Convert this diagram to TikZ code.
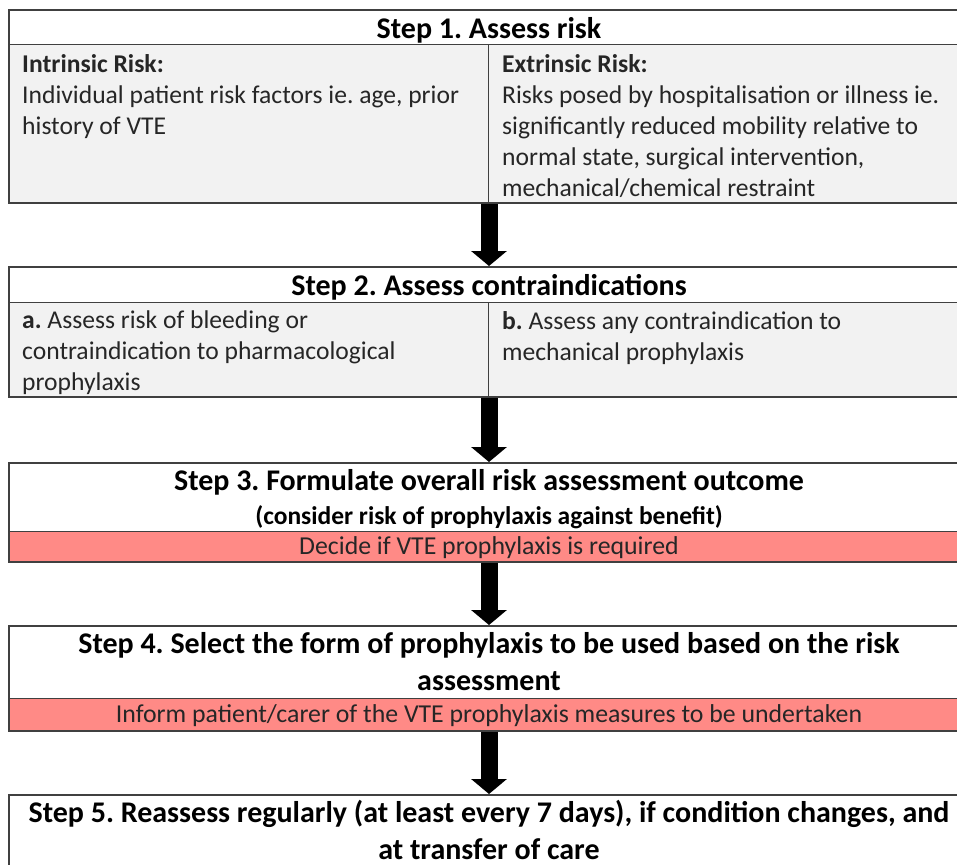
\documentclass[tikz,border=0pt]{standalone}
\usepackage{fontspec}
\setmainfont{Carlito}
\usetikzlibrary{arrows.meta}
\definecolor{frame}{HTML}{404040}
\definecolor{cellgray}{HTML}{F2F2F2}
\definecolor{pinkband}{HTML}{FF8A86}
\tikzset{
  boxframe/.style={draw=frame, line width=2pt, anchor=north west, inner sep=0pt},
  divider/.style={draw=frame, line width=1pt},
  hdr/.style={font=\fontsize{30}{36}\selectfont\bfseries, inner sep=0pt, anchor=center},
  bighdr/.style={font=\fontsize{30}{37}\selectfont\bfseries, inner sep=0pt, anchor=center, align=center},
  subhdr/.style={font=\fontsize{25.5}{30}\selectfont\bfseries, inner sep=0pt, anchor=center},
  celltext/.style={font=\fontsize{25.6}{31}\selectfont, inner sep=0pt, anchor=north west, align=left, text=black!85},
  bandtext/.style={font=\fontsize{25.8}{30}\selectfont, inner sep=0pt, anchor=center, text=black!85},
  bigarrow/.style={line width=17pt, -{Triangle[width=35pt,length=15pt]}, black}
}
\begin{document}
\frenchspacing
\begin{tikzpicture}[x=1pt,y=-1pt]
\useasboundingbox (0,0) rectangle (957,864);
\clip (0,0) rectangle (957,864);
% ---- Step 1
\fill[cellgray] (8,45) rectangle (970,202);
\draw[divider] (8,45) -- (970,45);
\draw[divider] (488,45) -- (488,202);
\node[boxframe, minimum width=962pt, minimum height=193pt] (s1) at (8,9) {};
\node[hdr] (s1t) at (489,30) {Step 1. Assess risk};
\node[celltext] (s1a) at (22,54) {\textbf{Intrinsic Risk:}\\Individual patient risk factors ie. age, prior\\history of VTE};
\node[celltext] (s1b) at (502,54) {\textbf{Extrinsic Risk:}\\Risks posed by hospitalisation or illness ie.\\significantly reduced mobility relative to\\normal state, surgical intervention,\\mechanical/chemical restraint};
% ---- Step 2
\fill[cellgray] (8,302) rectangle (970,396);
\draw[divider] (8,302) -- (970,302);
\draw[divider] (488,302) -- (488,396);
\node[boxframe, minimum width=962pt, minimum height=130pt] (s2) at (8,266) {};
\node[hdr] (s2t) at (489,287) {Step 2. Assess contraindications};
\node[celltext] (s2a) at (22,311) {\textbf{a.} Assess risk of bleeding or\\contraindication to pharmacological\\prophylaxis};
\node[celltext] (s2b) at (502,311) {\textbf{b.} Assess any contraindication to\\mechanical prophylaxis};
% ---- Step 3
\fill[pinkband] (8,531) rectangle (970,561);
\draw[divider] (8,531) -- (970,531);
\node[boxframe, minimum width=962pt, minimum height=99pt] (s3) at (8,462) {};
\node[bighdr] (s3t) at (489,482) {Step 3. Formulate overall risk assessment outcome};
\node[subhdr] (s3s) at (489,517) {(consider risk of prophylaxis against benefit)};
\node[bandtext] (s3b) at (489,548) {Decide if VTE prophylaxis is required};
% ---- Step 4
\fill[pinkband] (8,698) rectangle (970,730);
\draw[divider] (8,698) -- (970,698);
\node[boxframe, minimum width=962pt, minimum height=105pt] (s4) at (8,625) {};
\node[bighdr] (s4t) at (489,662) {Step 4. Select the form of prophylaxis to be used based on the risk\\assessment};
\node[bandtext] (s4b) at (489,716) {Inform patient/carer of the VTE prophylaxis measures to be undertaken};
% ---- Step 5
\node[boxframe, minimum width=962pt, minimum height=100pt] (s5) at (8,794) {};
\node[bighdr] (s5t) at (489,830) {Step 5. Reassess regularly (at least every 7 days), if condition changes, and\\at transfer of care};
% ---- arrows
\draw[bigarrow] (s1.south -| s1t.center) -- (s2.north -| s1t.center);
\draw[bigarrow] (s2.south -| s1t.center) -- (s3.north -| s1t.center);
\draw[bigarrow] (s3.south -| s1t.center) -- (s4.north -| s1t.center);
\draw[bigarrow] (s4.south -| s1t.center) -- (s5.north -| s1t.center);
\end{tikzpicture}
\end{document}
